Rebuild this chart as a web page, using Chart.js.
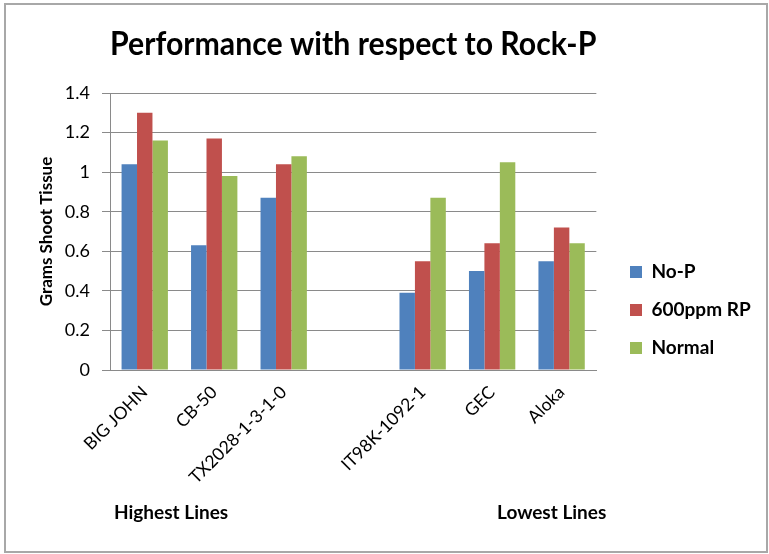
<!DOCTYPE html>
<html>
<head>
<meta charset="utf-8">
<title>Performance with respect to Rock-P</title>
<script src="https://cdn.jsdelivr.net/npm/chart.js@4"></script>
<style>
    html, body { margin: 0; padding: 0; background: #fff; }
    #wrap { width: 769px; height: 554px; }
</style>
</head>
<body>
<div id="wrap"><canvas id="rockChart" width="769" height="554"></canvas></div>
<script>
// Cultivars (blank slot separates the two groups)
const lines = ["BIG JOHN", "CB-50", "TX2028-1-3-1-0", "", "IT98K-1092-1", "GEC", "Aloka"];

// Grams of shoot tissue per treatment
const noP = [1.04, 0.63, 0.87, null, 0.39, 0.50, 0.55];
const rp600 = [1.30, 1.17, 1.04, null, 0.55, 0.64, 0.72];
const normal = [1.16, 0.98, 1.08, null, 0.87, 1.05, 0.64];

const yTicks = ["0", "0.2", "0.4", "0.6", "0.8", "1", "1.2", "1.4"];
const groupLabels = ["Highest Lines", "Lowest Lines"];

const FONT = "Lato, 'Open Sans', sans-serif";
const GRID = "#8a8a8a";

// White page with a grey frame, plus the two group captions under the axis
const framePlugin = {
    id: "frame",
    beforeDraw(chart) {
        const ctx = chart.ctx;
        ctx.save();
        ctx.fillStyle = "#fff";
        ctx.fillRect(0, 0, chart.width, chart.height);
        ctx.strokeStyle = "#a8a8a8";
        ctx.lineWidth = 2;
        ctx.strokeRect(5, 4, 762, 548);
        ctx.restore();

        // put the legend block next to the plot
        const lg = chart.legend;
        if (lg) {
            lg.left = 611;
            lg.right = 611 + lg.width;
            lg.top = 33;
            lg.bottom = chart.height + 33;
        }
    },
    afterDraw(chart) {
        const ctx = chart.ctx;
        const area = chart.chartArea;
        ctx.save();
        ctx.fillStyle = "#000";
        ctx.font = "bold 19px " + FONT;
        ctx.textBaseline = "alphabetic";
        ctx.textAlign = "left";
        ctx.fillText(groupLabels[0], area.left + 4, 519);
        ctx.fillText(groupLabels[1], area.left + 387, 519);
        ctx.restore();
    }
};

const chart = new Chart(document.getElementById("rockChart"), {
    type: "bar",
    data: {
        labels: lines,
        datasets: [
            { label: "No-P", data: noP, backgroundColor: "#4F81BD" },
            { label: "600ppm RP", data: rp600, backgroundColor: "#C0504D" },
            { label: "Normal", data: normal, backgroundColor: "#9BBB59" }
        ]
    },
    options: {
        responsive: false,
        animation: false,
        devicePixelRatio: 1,
        layout: { padding: { left: 0, right: 23, top: 0, bottom: 0 } },
        datasets: {
            bar: { barPercentage: 1.0, categoryPercentage: 0.667, borderWidth: 0 }
        },
        plugins: {
            title: {
                display: true,
                text: "Performance with respect to Rock-P",
                fullSize: false,
                color: "#000",
                font: { family: FONT, size: 32, weight: "bold", lineHeight: 1.2 },
                padding: { top: 25, bottom: 29.6 }
            },
            legend: {
                position: "right",
                labels: {
                    boxWidth: 12,
                    boxHeight: 12,
                    padding: 19,
                    color: "#000",
                    font: { family: FONT, size: 19, weight: "bold" }
                }
            },
            tooltip: { enabled: false }
        },
        scales: {
            x: {
                grid: { display: false },
                border: { color: GRID },
                ticks: {
                    color: "#000",
                    font: { family: FONT, size: 17.5 },
                    autoSkip: false,
                    minRotation: 45,
                    maxRotation: 45,
                    padding: 4
                },
                afterFit(scale) { scale.height = 184; }
            },
            y: {
                min: 0,
                max: 1.4,
                border: { color: GRID },
                grid: { color: GRID, tickLength: 8 },
                ticks: {
                    stepSize: 0.2,
                    color: "#000",
                    padding: 12,
                    font: { family: FONT, size: 18 },
                    callback: (v, i) => yTicks[i]
                },
                title: {
                    display: true,
                    text: "Grams Shoot Tissue",
                    color: "#000",
                    font: { family: FONT, size: 17, weight: "bold", lineHeight: 1.2 },
                    padding: { top: 36, bottom: 0 }
                },
                afterFit(scale) { scale.width = 110; }
            }
        }
    },
    plugins: [framePlugin]
});
</script>
</body>
</html>
